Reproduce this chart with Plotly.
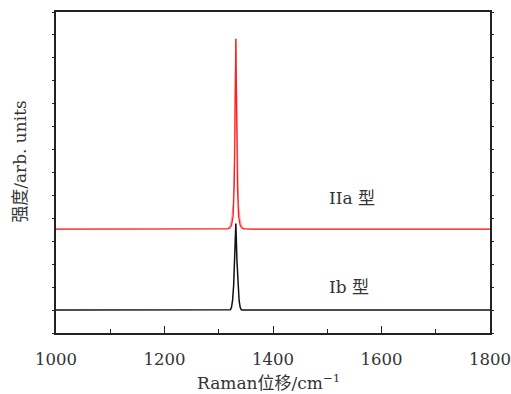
import plotly.graph_objects as go

# Raman shift (cm^-1) sample points
x_ib = [1000, 1300, 1318, 1321.5, 1323.5, 1325.5, 1327.5, 1329.5, 1331.5,
        1333.5, 1335.5, 1337.5, 1339.5, 1341.5, 1345, 1360, 1800]
y_ib = [1.0, 1.0, 1.0, 1.01, 1.12, 1.42, 2.10, 3.18, 4.77,
        3.18, 2.10, 1.42, 1.12, 1.01, 1.0, 1.0, 1.0]

x_iia = [1000, 1300, 1316.5, 1320.5, 1323.5, 1326.5, 1328.5, 1329.5, 1330.5, 1331.5,
         1332.5, 1333.5, 1334.5, 1336.5, 1339.5, 1342.5, 1346.5, 1362.5, 1800]
y_iia = [4.53, 4.53, 4.54, 4.58, 4.70, 5.10, 6.40, 8.00, 10.79, 12.83,
         10.79, 8.00, 6.40, 5.10, 4.70, 4.58, 4.54, 4.53, 4.53]

x_iia_b = [1000, 1300, 1316.5, 1320.5, 1323.5, 1326.5, 1328.5, 1330.0, 1331.5,
           1333.0, 1334.5, 1336.5, 1339.5, 1342.5, 1346.5, 1362.5, 1800]
y_iia_b = [4.53, 4.53, 4.56, 4.68, 4.95, 5.60, 7.40, 10.40, 12.83,
           10.40, 7.40, 5.60, 4.95, 4.68, 4.56, 4.53, 4.53]

x_ticks = [1000, 1200, 1400, 1600, 1800]
x_tick_text = ["1000", "1200", "1400", "1600", "1800"]

labels = ["IIa 型", "Ib 型"]
label_x = [1500, 1500]
label_y = [5.87, 2.0]

FONT = "DejaVu Serif, Noto Sans CJK SC, serif"

fig = go.Figure()
fig.add_trace(go.Scatter(x=x_iia_b, y=y_iia_b, mode="lines",
                         line=dict(color="rgba(255,40,40,0.5)", width=1.0),
                         showlegend=False, hoverinfo="skip"))
fig.add_trace(go.Scatter(x=x_iia, y=y_iia, mode="lines",
                         line=dict(color="#ff2020", width=1.3),
                         showlegend=False))
fig.add_trace(go.Scatter(x=x_ib, y=y_ib, mode="lines",
                         line=dict(color="#111111", width=1.5),
                         showlegend=False))

for t, lx, ly in zip(labels, label_x, label_y):
    fig.add_annotation(x=lx, y=ly, xref="x", yref="y", text=t, showarrow=False,
                       xanchor="left", yanchor="middle",
                       font=dict(family=FONT, size=17, color="#333333"))

fig.add_annotation(x=(269 - 56) / 434.5, y=(333.5 - 383) / 321.5, xref="paper", yref="paper",
                   text="Raman位移/cm<sup>−1</sup>", showarrow=False,
                   xanchor="center", yanchor="middle",
                   font=dict(family=FONT, size=17, color="#333333"))
fig.add_annotation(x=(20 - 56) / 434.5, y=(333.5 - 162) / 321.5, xref="paper", yref="paper",
                   text="强度/arb. units", showarrow=False, textangle=-90,
                   xanchor="center", yanchor="middle",
                   font=dict(family=FONT, size=17, color="#333333"))

fig.update_layout(
    width=511, height=394,
    margin=dict(l=56, r=20.5, t=12, b=60.5, autoexpand=False),
    paper_bgcolor="white", plot_bgcolor="white",
    font=dict(family=FONT, size=17, color="#333333"),
    xaxis=dict(range=[1000, 1800], tickvals=x_ticks, ticktext=x_tick_text,
               ticks="inside", ticklen=7, tickwidth=1.3, tickcolor="#222",
               minor=dict(tickvals=[1100, 1300, 1500, 1700], ticks="inside", ticklen=4,
                          tickwidth=1.3, tickcolor="#222", showgrid=False),
               showline=True, linecolor="#222", linewidth=2, mirror=True,
               showgrid=False, zeroline=False, ticklabelstandoff=10,
               ticklabeloverflow="allow", automargin=False,
               tickfont=dict(family=FONT, size=16.5, color="#333333")),
    yaxis=dict(range=[0, 14], dtick=1, tick0=0, showticklabels=False,
               ticks="outside", ticklen=2, tickwidth=1, tickcolor="#222",
               showline=True, linecolor="#222", linewidth=2, mirror="ticks",
               showgrid=False, zeroline=False, automargin=False),
)

fig.write_html("out.html", config={"displayModeBar": False},
               post_script="document.body.style.margin='0';document.body.style.overflow='hidden';")
